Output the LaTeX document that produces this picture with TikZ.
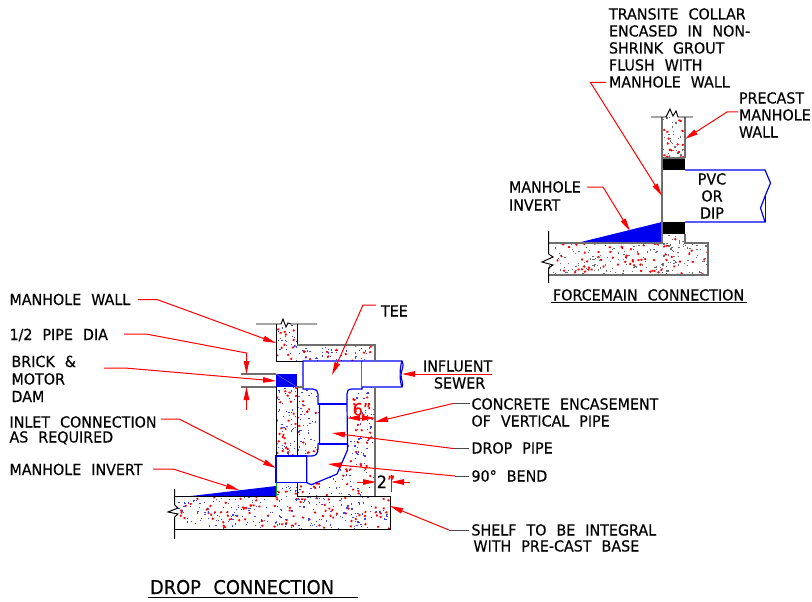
\documentclass[tikz,border=0pt]{standalone}
\usepackage{fontspec}
\setmainfont{DejaVu Sans}[FakeStretch=0.94,WordSpace=2.2,FakeBold=0.3]
\usetikzlibrary{arrows.meta}
\definecolor{cadred}{RGB}{255,0,0}
\definecolor{cadblue}{RGB}{0,0,240}
\definecolor{cadgray}{RGB}{110,110,110}
\newcommand{\speckle}[7]{% x0 y0 x1 y1 nred ndots colour
  \foreach \i in {1,...,#5}{
    \pgfmathsetmacro{\px}{#1+rnd*(#3-#1)}
    \pgfmathsetmacro{\py}{#2+rnd*(#4-#2)}
    \pgfmathsetmacro{\pa}{rnd*360}
    \draw[cadred,line width=1.7pt,rotate around={\pa:(\px,\py)}] (\px-1,\py) -- (\px+1,\py);
  }
  \foreach \i in {1,...,#6}{
    \pgfmathsetmacro{\px}{#1+rnd*(#3-#1)}
    \pgfmathsetmacro{\py}{#2+rnd*(#4-#2)}
    \fill[#7] (\px-.6,\py-.6) rectangle (\px+.6,\py+.6);
  }
}
\tikzset{
  lbl/.style={anchor=base west,yshift=-5.5pt,inner sep=0pt,outer sep=0pt,text=black,font=\fontsize{15.2}{17}\selectfont},
  lblc/.style={lbl,anchor=base},
  lblbig/.style={anchor=base west,yshift=-7pt,inner sep=0pt,outer sep=0pt,text=black,font=\fontsize{19}{22}\selectfont},
  lead/.style={draw=cadred,line width=1pt,-{Triangle[length=13pt,width=5.5pt]}},
  plainred/.style={draw=cadred,line width=1pt},
  tail/.style={draw=black!70,line width=1pt},
  outline/.style={draw=black,line width=.95pt},
  heavy/.style={draw=cadgray,line width=1.5pt},
  pipe/.style={draw=cadblue,line width=1.2pt,fill=white},
  pipeline/.style={draw=cadblue,line width=1.2pt},
}
\begin{document}
\begin{tikzpicture}[x=1pt,y=-1pt]
\useasboundingbox (0,0) rectangle (812,602);
\fill[white] (0,0) rectangle (812,602);
\pgfmathsetseed{4711}

% ---------- FORCEMAIN CONNECTION ----------
\begin{scope}
\clip (662,117) rectangle (685,158);
\speckle{662}{117}{685}{158}{18}{30}{cadgray}
\end{scope}
\begin{scope}
\clip (662,234) rectangle (685,244) (549,243) rectangle (708,275);
\speckle{549}{234}{708}{275}{95}{210}{cadgray}
\end{scope}
\fill[black] (662,158) rectangle (685,170);
\fill[black] (662,222) rectangle (685,234);
\fill[cadblue] (577,243) -- (662,222) -- (662,243) -- cycle;
\draw[heavy] (662,117) -- (662,243) -- (549,243);
\draw[heavy] (685,117) -- (685,158);
\draw[heavy] (662,158) -- (685,158);
\draw[heavy] (685,234) -- (685,243) -- (708,243) -- (708,275) -- (549,275);
\draw[outline] (651,117) -- (666,117) -- (670,109) -- (673,116) -- (676,111) -- (678,117) -- (693,117);
\draw[outline] (548.7,231) -- (548.7,254) -- (553,257) -- (542,262) -- (553,265) -- (548.7,268) -- (548.7,283);
\draw[pipeline] (685,170) -- (765,170) -- (770.5,183) -- (765.5,195) -- (760.5,208) -- (765,222) -- (685,222);
\draw[pipeline] (765.5,195) -- (765.5,222);

\node[lbl] (t1) at (609,14) {TRANSITE COLLAR};
\node[lbl] (t2) at (609,31) {ENCASED IN NON-};
\node[lbl] (t3) at (609,48) {SHRINK GROUT};
\node[lbl] (t4) at (609,65) {FLUSH WITH};
\node[lbl] (t5) at (609,82) {MANHOLE WALL};
\node[lbl] (p1) at (739,98) {PRECAST};
\node[lbl] (p2) at (739,115) {MANHOLE};
\node[lbl] (p3) at (739,132) {WALL};
\node[lbl] (mi1) at (509,187) {MANHOLE};
\node[lbl] (mi2) at (509,205) {INVERT};
\node[lblc] (v1) at (712,179) {PVC};
\node[lblc] (v2) at (712,196) {OR};
\node[lblc] (v3) at (712,213) {DIP};
\node[lbl] (fc) at (553,295) {FORCEMAIN CONNECTION};
\draw[outline] (551,302) -- (747,302);

\coordinate (a1) at (606,82.5); \coordinate (a1k) at (590.5,82.5); \coordinate (a1t) at (662,196);
\coordinate (a2) at (738,112); \coordinate (a2k) at (727,112); \coordinate (a2t) at (685,139);
\coordinate (a3) at (587,187); \coordinate (a3k) at (603,187); \coordinate (a3t) at (630,231);
\draw[lead] (a1) -- (a1k) -- (a1t);
\draw[lead] (a2) -- (a2k) -- (a2t);
\draw[lead] (a3) -- (a3k) -- (a3t);

% ---------- DROP CONNECTION ----------
\begin{scope}
\clip (276,324) rectangle (297,361);
\speckle{276}{324}{297}{361}{13}{24}{cadblue!75}
\end{scope}
\begin{scope}
\clip (297,345) rectangle (375,361);
\speckle{297}{345}{375}{361}{14}{45}{cadblue!75}
\end{scope}
\begin{scope}
\clip (276,387) rectangle (297,456);
\speckle{276}{387}{297}{456}{28}{45}{cadblue!75}
\end{scope}
\begin{scope}
\clip (297,387) rectangle (375,496);
\speckle{297}{387}{375}{496}{80}{200}{cadblue!75}
\end{scope}
\begin{scope}
\clip (175,496) rectangle (390,529) (276,482) rectangle (297,496);
\speckle{175}{482}{390}{529}{135}{300}{cadblue!75}
\end{scope}

% pipes, tee and bend on top of the concrete
\filldraw[pipe] (303,361) -- (362,361) -- (362,389) -- (352,389) .. controls (348,389) and (347,391) .. (347,394) -- (347,404) -- (347.5,444) -- (347.5,450) -- (337,474) -- (311.5,484.7) -- (306.7,482.7) -- (306.7,456) -- (312,456) .. controls (316,456) and (318,453) .. (318,449) -- (318,444) -- (319.5,443) -- (319.5,404) -- (318,404) -- (318,394) .. controls (318,391) and (316,389) .. (313,389) -- (303,389) -- cycle;
\draw[pipeline] (318,404) -- (347,404);
\draw[pipeline] (319,444) -- (347.5,444);
\filldraw[pipe] (362,361) -- (402,361) .. controls (405,366) and (401,370) .. (401,375) .. controls (401,380) and (404,384) .. (402,387) -- (362,387);
\draw[pipeline] (402,361) .. controls (400,366) and (399,380) .. (402,387);
\fill[white] (276,456) rectangle (306.7,482.7);
\draw[pipeline] (276,456) -- (306.7,456) -- (306.7,482.7) -- (276,482.7) -- cycle;
\fill[cadblue] (276,374) rectangle (297,387);
\draw[cadblue!50!white,line width=.4pt] (276,374) -- (297,387);
\fill[cadblue] (191,496) -- (276,486) -- (276,496) -- cycle;

\draw[outline] (276,324) -- (276,361) -- (303,361);
\draw[outline] (297,324) -- (297,345);
\draw[heavy] (297,345) -- (375,345) -- (375,361);
\draw[heavy] (375,387) -- (375,496);
\draw[outline] (276,387) -- (276,456);
\draw[outline] (297,387) -- (297,456);
\draw[outline] (297,482.7) -- (297,496);
\draw[green!70!black,line width=.8pt] (276,482.7) -- (276,496);
\draw[heavy] (241,374) -- (276,374);
\draw[heavy] (241,387) -- (276,387);
\draw[heavy] (297,387) -- (303,387);
\draw[outline] (175,496) -- (276,496);
\draw[outline] (297,496) -- (390,496) -- (390,529) -- (175,529);
\draw[outline] (256,324) -- (281,324) -- (283,319) -- (286,327) -- (288,323) -- (291,324) -- (317,324);
\draw[outline] (174.7,489) -- (174.7,505) -- (178,508) -- (168,512) -- (178,514) -- (174.7,517) -- (174.7,539);

\node[lbl] (d1) at (9.5,299.5) {MANHOLE WALL};
\node[lbl] (d2) at (9.5,334.5) {1/2 PIPE DIA};
\node[lbl] (d3) at (11.5,361.5) {BRICK \&};
\node[lbl] (d4) at (11.5,379) {MOTOR};
\node[lbl] (d5) at (11.5,396.5) {DAM};
\node[lbl] (d6) at (9.5,422) {INLET CONNECTION};
\node[lbl] (d7) at (9.5,437) {AS REQUIRED};
\node[lbl] (d8) at (9.5,469.5) {MANHOLE INVERT};
\node[lbl] (d9) at (381,311) {TEE};
\node[lbl] (d10) at (423,366) {INFLUENT};
\node[lbl] (d11) at (434,383) {SEWER};
\node[lbl] (d12) at (471.5,404) {CONCRETE ENCASEMENT};
\node[lbl] (d13) at (471.5,421) {OF VERTICAL PIPE};
\node[lbl] (d14) at (471.5,448) {DROP PIPE};
\node[lbl] (d15) at (471.5,476) {90° BEND};
\node[lbl] (d16) at (471.5,530) {SHELF TO BE INTEGRAL};
\node[lbl] (d17) at (473.5,546) {WITH PRE-CAST BASE};
\node[lblbig] (dc) at (150,587) {DROP CONNECTION};
\draw[outline] (148,597) -- (358,597);

\coordinate (b1) at (138,299.5); \coordinate (b1k) at (157,299.5); \coordinate (b1t) at (276,343);
\coordinate (b2) at (124,334); \coordinate (b2k) at (146,334); \coordinate (b2m) at (246.5,353); \coordinate (b2t) at (246.5,374);
\coordinate (b2l) at (246.5,410); \coordinate (b2lt) at (246.5,387);
\coordinate (b3) at (104,368); \coordinate (b3k) at (125,368); \coordinate (b3t) at (276,381);
\coordinate (b4) at (376,305); \coordinate (b4k) at (363,305); \coordinate (b4t) at (332,375);
\coordinate (b5) at (492,374); \coordinate (b5t) at (402,374);
\coordinate (b6) at (470,403.5); \coordinate (b6k) at (453,403.5); \coordinate (b6t) at (375,422);
\coordinate (b7) at (469,448.5); \coordinate (b7k) at (453,448.5); \coordinate (b7t) at (332,433);
\coordinate (b8) at (469,476); \coordinate (b8k) at (455,476); \coordinate (b8t) at (328,464);
\coordinate (b9) at (469,530); \coordinate (b9k) at (449,530); \coordinate (b9t) at (390,506);
\coordinate (b10) at (161,419); \coordinate (b10k) at (179,419); \coordinate (b10t) at (276,468);
\coordinate (b11) at (153,469); \coordinate (b11k) at (173,469); \coordinate (b11t) at (239,490);
\draw[lead] (b1) -- (b1k) -- (b1t);
\draw[lead] (b2) -- (b2k) -- (b2m) -- (b2t);
\draw[lead] (b2l) -- (b2lt);
\draw[lead] (b3) -- (b3k) -- (b3t);
\draw[lead] (b4) -- (b4k) -- (b4t);
\draw[lead] (b5) -- (b5t);
\draw[tail] (b6) -- (b6k);
\draw[lead] (b6k) -- (b6t);
\draw[tail] (b7) -- (b7k);
\draw[lead] (b7k) -- (b7t);
\draw[tail] (b8) -- (b8k);
\draw[lead] (b8k) -- (b8t);
\draw[tail] (b9) -- (b9k);
\draw[lead] (b9k) -- (b9t);
\draw[lead] (b10) -- (b10k) -- (b10t);
\draw[lead] (b11) -- (b11k) -- (b11t);

% dimensions
\coordinate (c1) at (361,418); \coordinate (c1t) at (347,418);
\coordinate (c2) at (361,418); \coordinate (c2t) at (375,418);
\draw[lead] (c1) -- (c1t);
\draw[lead] (c2) -- (c2t);
\node[lblc,text=cadred,font=\fontsize{17}{20}\selectfont] (six) at (362,410) {6"};
\coordinate (c3) at (357,482); \coordinate (c3t) at (376,482);
\coordinate (c4) at (410,482); \coordinate (c4t) at (391,482);
\draw[lead] (c3) -- (c3t);
\draw[lead] (c4) -- (c4t);
\coordinate (c5) at (391,475); \coordinate (c5e) at (391,492);
\draw[plainred] (c5) -- (c5e);
\node[lblc,font=\fontsize{17}{20}\selectfont] (two) at (386,482.5) {2\textcolor{cadred}{"}};
\end{tikzpicture}
\end{document}
